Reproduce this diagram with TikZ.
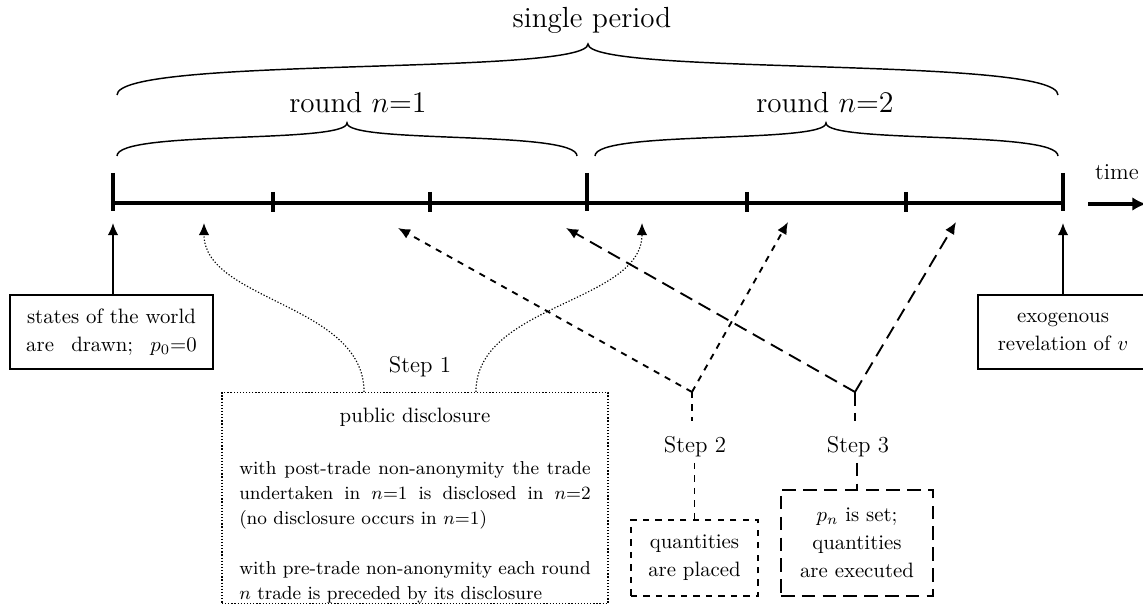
\documentclass[tikz,border=0pt]{standalone}
\usetikzlibrary{arrows.meta,calc}
\def\pxu{0.4808pt}
\begin{document}
\begin{tikzpicture}[x=0.4808pt,y=-0.4808pt,
  tl/.style={line width=1.9pt},
  bx/.style={draw,line width=0.8pt,inner sep=0pt,align=center,font=\fontsize{10}{13.5}\selectfont},
  tip/.style={-{Latex[length=5.8pt,width=5pt]}},
  upar/.style={line width=0.7pt,tip},
  brc/.style={line width=0.7pt},
  stwo/.style={line width=0.9pt,dash pattern=on 3pt off 3pt},
  sthree/.style={line width=0.9pt,dash pattern=on 6.5pt off 3.5pt},
  dotl/.style={line width=0.55pt,dash pattern=on 0.6pt off 0.9pt},
  steplbl/.style={font=\fontsize{11}{13}\selectfont,inner sep=0pt,anchor=base},
  bigtxt/.style={font=\fontsize{14}{17}\selectfont,anchor=base,inner sep=0pt},
]
\useasboundingbox (0,0) rectangle (1143,614);
\fill[white] (0,0) rectangle (1143,614);

% braces
\draw[brc] (117,95) .. controls (117,56) and (588,76) .. (588,44) .. controls (588,76) and (1058,56) .. (1058,95);
\draw[brc] (117,156) .. controls (117,130) and (347,144) .. (347,123) .. controls (347,144) and (577,130) .. (577,156);
\draw[brc] (595,156) .. controls (595,130) and (826,144) .. (826,123) .. controls (826,144) and (1058,130) .. (1058,156);
\node[bigtxt] (sp) at (592,28) {single period};
\node[bigtxt] (r1) at (358,113) {round $n{=}1$};
\node[bigtxt] (r2) at (825,113) {round $n{=}2$};

% timeline
\draw[tl] (113,203) -- (1063,203);
\foreach \x in {113,587,1063} \draw[tl] (\x,173) -- (\x,211);
\foreach \x in {273,430,747,906} \draw[tl] (\x,192) -- (\x,212);
\coordinate (ta) at (1088,204);
\coordinate (tb) at (1146,204);
\draw[tl,-{Latex[length=6.5pt,width=6.5pt]}] (ta) -- (tb);
\node[steplbl] (time) at (1117,180) {time};

% arrow targets
\coordinate (a0) at (113,223);
\coordinate (a1) at (1063,223);
\coordinate (d1) at (204,223);
\coordinate (d2) at (642,223);
\coordinate (t2a) at (398,228);
\coordinate (t2b) at (788,222);
\coordinate (t3a) at (566,228);
\coordinate (t3b) at (956,222);
\coordinate (j2) at (692,392);
\coordinate (j3) at (855,392);

% boxes
\node[bx, text width=82pt, minimum width=203*\pxu, minimum height=74*\pxu] (lb) at (111.5,332)
  {states of the world\\ are\hfill drawn;\hfill $p_0{=}0$};
\node[bx, minimum width=170*\pxu, minimum height=74*\pxu] (rb) at (1063,332)
  {exogenous\\revelation of $v$};
\node[bx, stwo, minimum width=127*\pxu, minimum height=76*\pxu] (b2) at (694.5,558)
  {quantities\\are placed};
\node[bx, sthree, minimum width=152*\pxu, minimum height=106*\pxu] (b3) at (857,543)
  {$p_n$ is set;\\quantities\\are executed};
\node[draw, dotl, inner sep=0pt, text width=169pt, align=justify,
      minimum width=386*\pxu, minimum height=208*\pxu, font=\fontsize{10}{12}\selectfont] (db) at (415,498)
  {\noindent\rule{0pt}{14.6pt}\hfill public disclosure\hfill\null\\[13pt]
   \small with post-trade non-anonymity the trade\linebreak
   undertaken in $n{=}1$ is disclosed in $n{=}2$\linebreak
   (no disclosure occurs in $n{=}1$)\\[12pt]
   with pre-trade non-anonymity each round\linebreak
   $n$ trade is preceded by its disclosure};

% step labels
\node[steplbl] (s1) at (420,373) {Step 1};
\node[steplbl] (s2) at (695,453) {Step 2};
\node[steplbl] (s3) at (858,453) {Step 3};
\coordinate (s2top) at ($(j2 |- s2.north)+(0,-15)$);
\coordinate (s3top) at ($(j3 |- s3.north)+(0,-15)$);
\coordinate (s2bot) at ($(b2.north |- s2.south)+(0,5)$);
\coordinate (s3bot) at ($(b3.north |- s3.south)+(0,5)$);

% up arrows
\draw[upar] (lb.north -| a0) -- (a0);
\draw[upar] (rb.north) -- (a1);

% step 1 dotted arrows
\draw[dotl,tip] ([xshift=-24.5pt]db.north) .. controls +(0,-88) and +(0,78) .. (d1);
\draw[dotl,tip] ([xshift=29.3pt]db.north) .. controls +(0,-88) and +(0,80) .. (d2);

% step 2
\draw[stwo] (j2) -- (s2top);
\draw[stwo] (s2bot) -- (b2.north);
\draw[stwo,tip] (j2) -- (t2a);
\draw[stwo,tip] (j2) -- (t2b);

% step 3
\draw[sthree] (j3) -- (s3top);
\draw[sthree] (s3bot) -- (b3.north);
\draw[sthree,tip] (j3) -- (t3a);
\draw[sthree,tip] (j3) -- (t3b);
\end{tikzpicture}
\end{document}
